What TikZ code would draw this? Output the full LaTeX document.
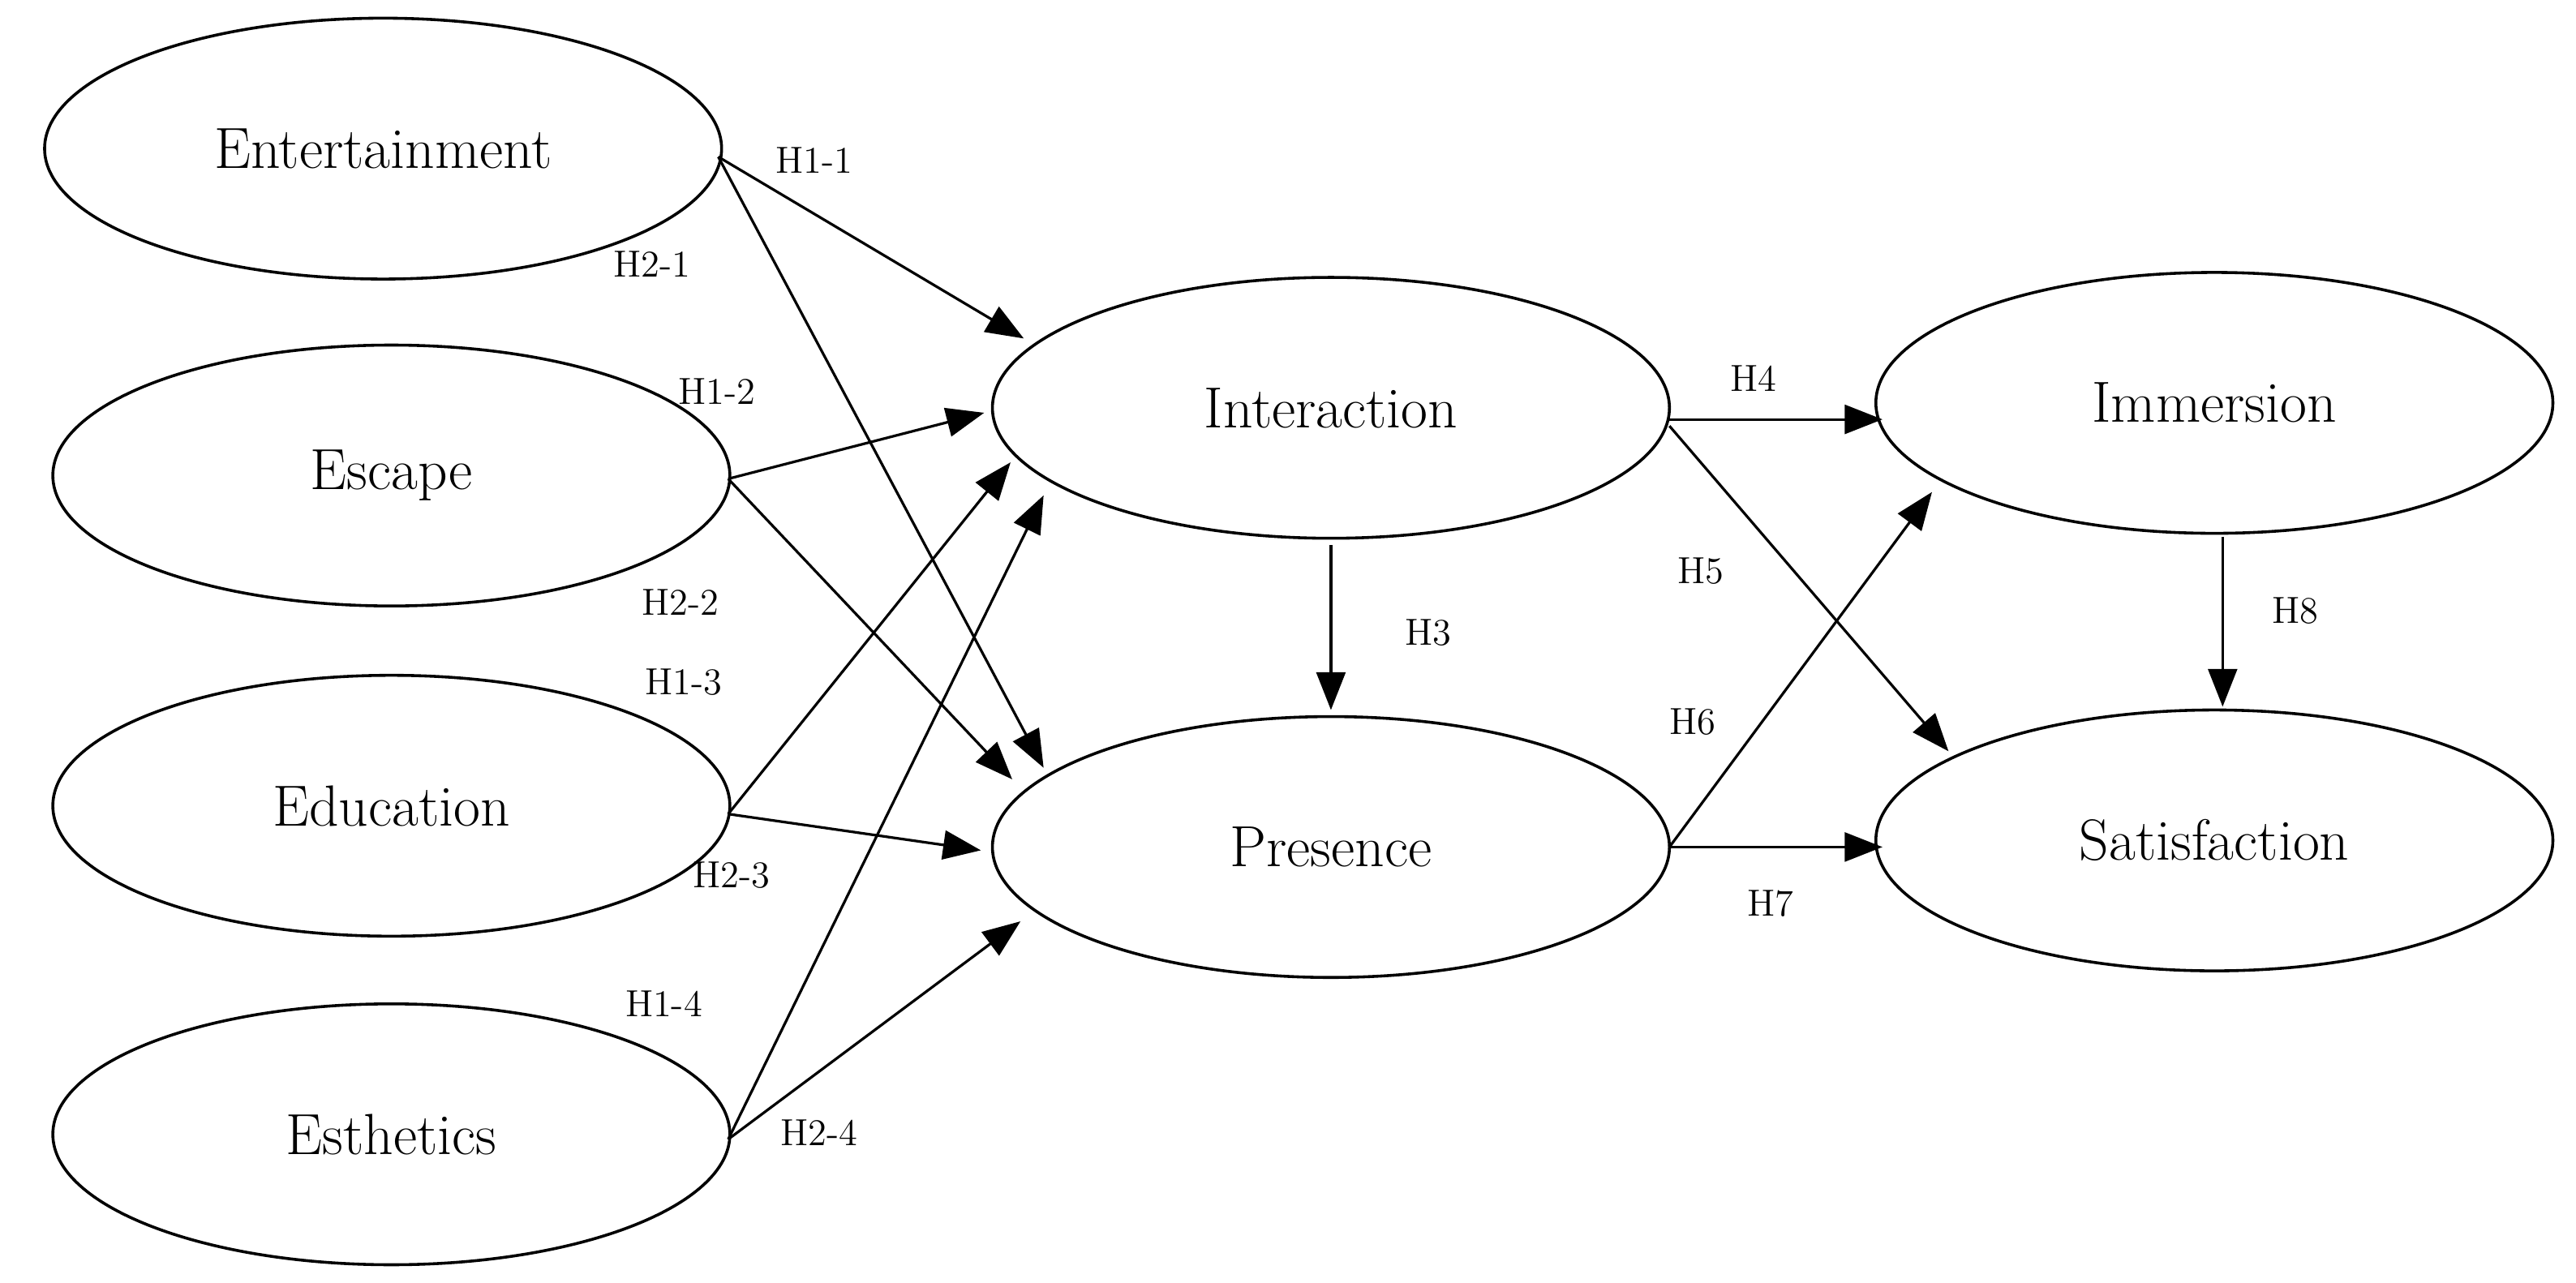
\documentclass[tikz,border=0pt]{standalone}
\usetikzlibrary{arrows.meta}
\begin{document}
\begin{tikzpicture}[x=0.02cm,y=-0.02cm,
  lab/.style={font=\fontsize{13}{15}\selectfont,inner sep=0pt},
  arr/.style={line width=0.9pt,-{Triangle[length=13pt,width=10pt]}}]
\useasboundingbox (0,0) rectangle (1560,777);
\foreach \n/\x/\y/\t in {ent/232/90/Entertainment,esc/237/288/Escape,edu/237/488/Education,est/237/687/Esthetics,int/806/247/Interaction,pre/806/513/Presence,imm/1341/244/Immersion,sat/1341/509/Satisfaction}{
  \draw[line width=1pt] (\x,\y) ellipse [x radius=205, y radius=79];
  \node[font=\fontsize{20}{24}\selectfont] (\n) at (\x,\y) {\t};
}
\coordinate (a1) at (435,95); \coordinate (a2) at (441,290);
\coordinate (a3) at (441,493); \coordinate (a4) at (441,690);
\coordinate (i1) at (620,205); \coordinate (i2) at (596,250);
\coordinate (i3) at (612,280); \coordinate (i4) at (632,300);
\coordinate (p1) at (632,465); \coordinate (p2) at (613,472);
\coordinate (p3) at (594,515); \coordinate (p4) at (618,558);
\coordinate (ib) at (806,330); \coordinate (pt) at (806,430);
\coordinate (ir) at (1011,254); \coordinate (ir2) at (1011,258);
\coordinate (pr) at (1011,513);
\coordinate (ml) at (1140,254); \coordinate (mb) at (1170,298);
\coordinate (sl) at (1140,513); \coordinate (st) at (1180,455);
\coordinate (mb2) at (1346,325); \coordinate (st2) at (1346,428);
\draw[arr] (a1) -- (i1); \draw[arr] (a1) -- (p1);
\draw[arr] (a2) -- (i2); \draw[arr] (a2) -- (p2);
\draw[arr] (a3) -- (i3); \draw[arr] (a3) -- (p3);
\draw[arr] (a4) -- (i4); \draw[arr] (a4) -- (p4);
\draw[arr] (ib) -- (pt);
\draw[arr] (ir) -- (ml); \draw[arr] (ir2) -- (st);
\draw[arr] (pr) -- (mb); \draw[arr] (pr) -- (sl);
\draw[arr] (mb2) -- (st2);
\foreach \x/\y/\t in {493/97/H1-1,395/160/H2-1,434/237/H1-2,412/365/H2-2,414/413/H1-3,443/530/H2-3,402/608/H1-4,496/686/H2-4,865/383/H3,1062/229/H4,1030/346/H5,1025/437/H6,1072/547/H7,1390/370/H8}
  \node[lab] at (\x,\y) {\t};
\end{tikzpicture}
\end{document}
